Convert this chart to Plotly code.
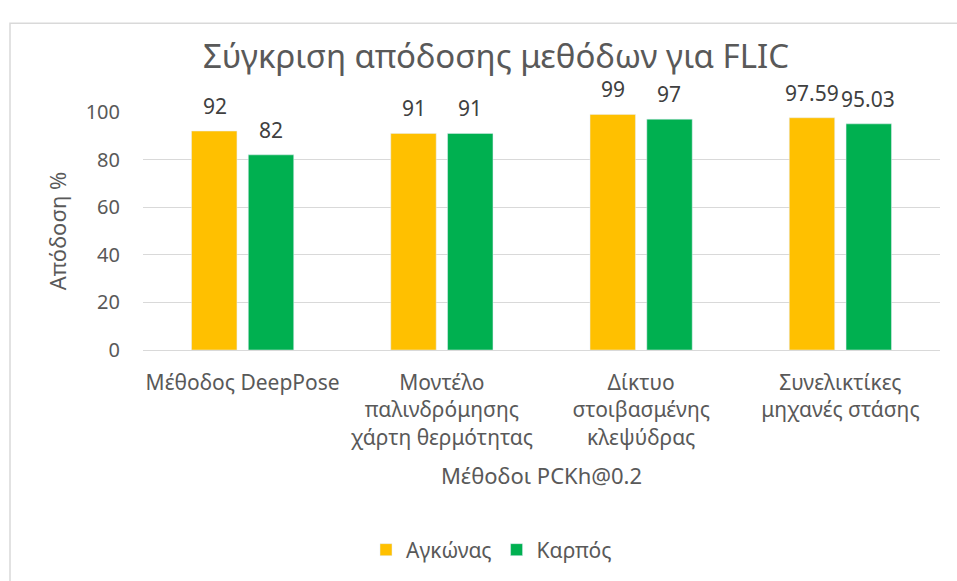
import plotly.graph_objects as go

categories = [
    "Μέθοδος DeepPose",
    "Μοντέλο<br>παλινδρόμησης<br>χάρτη θερμότητας",
    "Δίκτυο<br>στοιβασμένης<br>κλεψύδρας",
    "Συνελικτίκες<br>μηχανές στάσης",
]
elbow = [92, 91, 99, 97.59]
wrist = [82, 91, 97, 95.03]
series_names = ["Αγκώνας", "Καρπός"]
series_colors = ["#FFC000", "#00B050"]
y_ticks = [0, 20, 40, 60, 80, 100]

FONT = "Noto Sans"
TEXT = "#595959"
W, H = 957, 581
L, R, T, B = 143, 17, 112, 230

fig = go.Figure()
for name, vals, color in zip(series_names, [elbow, wrist], series_colors):
    fig.add_trace(go.Bar(x=categories, y=vals, name=name, marker_color=color))

# value labels sitting above each bar of the two groups
for k, vals in enumerate([elbow, wrist]):
    shift = -28 if k == 0 else 28
    for cat, v in zip(categories, vals):
        fig.add_annotation(
            x=cat, y=v, xref="x", yref="y", text=f"{v:g}", showarrow=False,
            xshift=shift, yshift=9, yanchor="bottom",
            font=dict(size=21, color="#404040", family=FONT),
        )

# light frame round the chart area
pw, ph = W - L - R, H - T - B
def px_x(p):
    return (p - L) / pw
def px_y(p):
    return (H - B - p) / ph

fig.add_shape(type="rect", xref="paper", yref="paper",
              x0=px_x(10), x1=px_x(W + 30), y0=px_y(H + 5), y1=px_y(23),
              line=dict(color="#D9D9D9", width=1.5), fillcolor="rgba(0,0,0,0)",
              layer="below")

fig.update_layout(
    width=W, height=H,
    margin=dict(l=L, r=R, t=T, b=B),
    paper_bgcolor="white", plot_bgcolor="white",
    font=dict(family=FONT, color=TEXT),
    title=dict(text="Σύγκριση απόδοσης μεθόδων για FLIC",
               font=dict(size=33, color=TEXT, family=FONT),
               x=496 / W, xanchor="center", y=1 - 56 / H, yanchor="middle"),
    barmode="group", bargap=0.43, bargroupgap=0.2,
    showlegend=True,
    legend=dict(orientation="h", x=0.5 - 50 / pw, xanchor="center",
                y=px_y(550), yanchor="middle",
                font=dict(size=21, color=TEXT, family=FONT),
                itemwidth=30),
    xaxis=dict(
        title=dict(text="Μέθοδοι PCKh@0.2", font=dict(size=22, color=TEXT),
                   standoff=19),
        tickfont=dict(size=21, color=TEXT),
        showline=False, ticks="", ticklabelstandoff=18,
    ),
    yaxis=dict(
        title=dict(text="Απόδοση %", font=dict(size=22, color=TEXT),
                   standoff=12),
        range=[0, 100], tickvals=y_ticks,
        tickfont=dict(size=20, color=TEXT),
        showgrid=True, gridcolor="#D9D9D9", gridwidth=1,
        zeroline=True, zerolinecolor="#D9D9D9", zerolinewidth=1,
        ticks="", ticklabelstandoff=22,
    ),
)

fig.write_html("out.html")
